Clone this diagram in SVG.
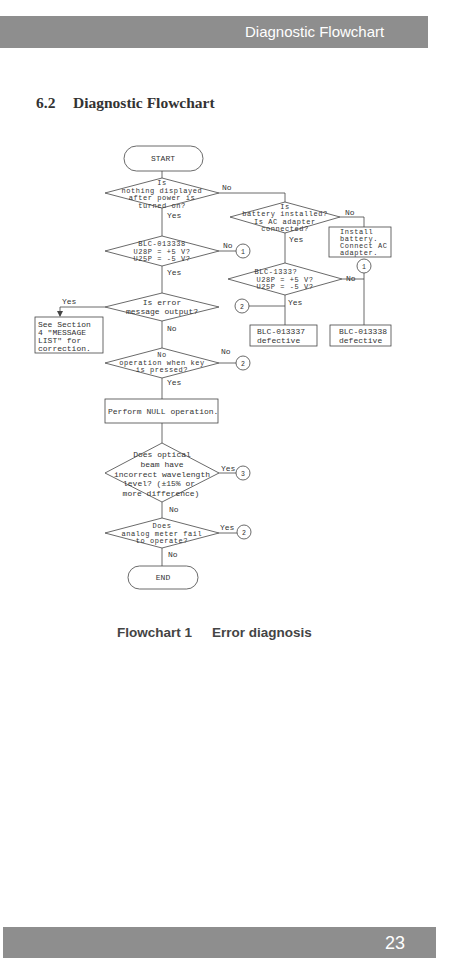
<svg xmlns="http://www.w3.org/2000/svg" width="454" height="964" viewBox="0 0 454 964">
<style>
.ln{fill:none;stroke:#444;stroke-width:0.8}
.sh{fill:#fff;stroke:#444;stroke-width:0.8}
.t{font-family:"Liberation Mono","DejaVu Sans Mono",monospace;font-size:8px;fill:#333}
.s{font-size:7px;letter-spacing:0.55px}
.c{text-anchor:middle}
.n{font-family:"Liberation Mono",monospace;font-size:6.5px;fill:#333;text-anchor:middle}
</style>
<defs>
<marker id="ah" markerWidth="6" markerHeight="6" refX="5" refY="3" orient="auto" markerUnits="userSpaceOnUse"><path d="M0,0 L6,3 L0,6 z" fill="#444"/></marker>
</defs>
<rect width="454" height="964" fill="#fff"/>
<g id="header">
<rect x="0" y="16" width="428" height="32" fill="#8e8e8e"/>
<text x="245" y="37" font-family="Liberation Sans,Arial,sans-serif" font-size="15" fill="#fff">Diagnostic Flowchart</text>
</g>
<g id="title">
<text x="36" y="108" font-family="Liberation Serif,serif" font-size="15.5" font-weight="bold" fill="#333">6.2</text>
<text x="73" y="108" font-family="Liberation Serif,serif" font-size="15.5" font-weight="bold" fill="#333">Diagnostic Flowchart</text>
</g>
<g id="connectors">
<path class="ln" d="M162,171 V178"/>
<path class="ln" d="M162,208 V236"/>
<path class="ln" d="M219,193 H285 V203"/>
<path class="ln" d="M219,251 H236"/>
<path class="ln" d="M162,266 V293"/>
<path class="ln" d="M105,307 H60 V316" marker-end="url(#ah)"/>
<path class="ln" d="M162,321 V348"/>
<path class="ln" d="M219,363 H236"/>
<path class="ln" d="M162,378 V399"/>
<path class="ln" d="M162,423 V443"/>
<path class="ln" d="M219,473 H236"/>
<path class="ln" d="M162,502 V518"/>
<path class="ln" d="M219,533 H237"/>
<path class="ln" d="M162,548 V566"/>
<path class="ln" d="M340,217 H364 V227"/>
<path class="ln" d="M285,232 V263"/>
<path class="ln" d="M342,279 H364"/>
<path class="ln" d="M364,273 V325"/>
<path class="ln" d="M285,294 V325"/>
<path class="ln" d="M249,306 H285"/>
<text class="t" x="167" y="218">Yes</text>
<text class="t" x="222" y="190">No</text>
<text class="t" x="223" y="248">No</text>
<text class="t" x="167" y="275">Yes</text>
<text class="t" x="62" y="304">Yes</text>
<text class="t" x="167" y="331">No</text>
<text class="t" x="221" y="354">No</text>
<text class="t" x="167" y="385">Yes</text>
<text class="t" x="221" y="471">Yes</text>
<text class="t" x="169" y="512">No</text>
<text class="t" x="220" y="530">Yes</text>
<text class="t" x="168" y="557">No</text>
<text class="t" x="345" y="215">No</text>
<text class="t" x="289" y="242">Yes</text>
<text class="t" x="346" y="281">No</text>
<text class="t" x="288" y="305">Yes</text>
</g>
<g id="start">
<rect class="sh" x="124" y="146" width="79" height="25" rx="12.5"/>
<text class="t c" x="163" y="161" font-size="7">START</text>
</g>
<g id="d1">
<polygon class="sh" points="162,178 219,193 162,208 105,193"/>
<text class="t s c" x="162" y="185">Is</text>
<text class="t s c" x="162" y="192.5">nothing displayed</text>
<text class="t s c" x="162" y="200">after power is</text>
<text class="t s c" x="162" y="207.5">turned on?</text>
</g>
<g id="d2">
<polygon class="sh" points="162,236 219,251 162,266 105,251"/>
<text class="t s c" x="162" y="246">BLC-013338</text>
<text class="t s c" x="162" y="253.5">U28P = +5 V?</text>
<text class="t s c" x="162" y="261">U25P = -5 V?</text>
</g>
<g id="c1a">
<circle class="sh" cx="243" cy="251" r="7"/>
<text class="n" x="243" y="253.5">1</text>
</g>
<g id="d3">
<polygon class="sh" points="162,293 219,307 162,321 105,307"/>
<text class="t c" x="162" y="305">Is error</text>
<text class="t c" x="162" y="314">message output?</text>
</g>
<g id="see">
<rect class="sh" x="35" y="317" width="68" height="36"/>
<text class="t" x="38" y="327" font-size="7.5">See Section</text>
<text class="t" x="38" y="335" font-size="7.5">4 "MESSAGE</text>
<text class="t" x="38" y="343" font-size="7.5">LIST" for</text>
<text class="t" x="38" y="351" font-size="7.5">correction.</text>
</g>
<g id="d4">
<polygon class="sh" points="162,348 219,363 162,378 105,363"/>
<text class="t s c" x="162" y="357">No</text>
<text class="t s c" x="162" y="364.5">operation when key</text>
<text class="t s c" x="162" y="372">is pressed?</text>
</g>
<g id="c2a">
<circle class="sh" cx="243" cy="363" r="7"/>
<text class="n" x="243" y="365.5">2</text>
</g>
<g id="null">
<rect class="sh" x="105" y="399" width="113" height="24"/>
<text class="t" x="108" y="414">Perform NULL operation.</text>
</g>
<g id="d5">
<polygon class="sh" points="162,443 219,473 162,502 105,473"/>
<text class="t c" x="162" y="457">Does optical</text>
<text class="t c" x="162" y="467">beam have</text>
<text class="t c" x="162" y="476.5">incorrect wavelength</text>
<text class="t c" x="159" y="486">level?  (±15% or</text>
<text class="t c" x="161" y="495.5">more difference)</text>
</g>
<g id="c3">
<circle class="sh" cx="243" cy="473" r="7"/>
<text class="n" x="243" y="475.5">3</text>
</g>
<g id="d6">
<polygon class="sh" points="162,518 219,533 162,548 105,533"/>
<text class="t s c" x="162" y="528">Does</text>
<text class="t s c" x="162" y="535.5">analog meter fail</text>
<text class="t s c" x="162" y="543">to operate?</text>
</g>
<g id="c2b">
<circle class="sh" cx="244" cy="532" r="7"/>
<text class="n" x="244" y="534.5">2</text>
</g>
<g id="end">
<rect class="sh" x="128" y="566" width="70" height="23" rx="11.5"/>
<text class="t c" x="163" y="580" font-size="7">END</text>
</g>
<g id="d7">
<polygon class="sh" points="285,202 340,217 285,233 230,217"/>
<text class="t s c" x="285" y="208.5">Is</text>
<text class="t s c" x="285" y="216">battery installed?</text>
<text class="t s c" x="285" y="223.5">Is AC adapter</text>
<text class="t s c" x="285" y="231">connected?</text>
</g>
<g id="install">
<rect class="sh" x="329" y="227" width="62" height="30"/>
<text class="t s" x="340" y="234">Install</text>
<text class="t s" x="340" y="241">battery.</text>
<text class="t s" x="340" y="248">Connect AC</text>
<text class="t s" x="340" y="255">adapter.</text>
</g>
<g id="c1b">
<circle class="sh" cx="364" cy="266" r="7"/>
<text class="n" x="364" y="268.5">1</text>
</g>
<g id="d8">
<polygon class="sh" points="285,263 342,279 285,295 228,279"/>
<text class="t s c" x="276" y="274">BLC-1333?</text>
<text class="t s c" x="285" y="281.5">U28P = +5 V?</text>
<text class="t s c" x="285" y="289">U25P = -5 V?</text>
</g>
<g id="c2c">
<circle class="sh" cx="242" cy="306" r="7"/>
<text class="n" x="242" y="308.5">2</text>
</g>
<g id="b37">
<rect class="sh" x="250" y="325" width="67" height="21"/>
<text class="t" x="257" y="334">BLC-013337</text>
<text class="t" x="257" y="343">defective</text>
</g>
<g id="b38">
<rect class="sh" x="330" y="325" width="61" height="21"/>
<text class="t" x="339" y="334">BLC-013338</text>
<text class="t" x="339" y="343">defective</text>
</g>
<g id="caption">
<text x="117" y="637" font-family="Liberation Sans,Arial,sans-serif" font-size="13.5" font-weight="bold" fill="#444">Flowchart 1</text>
<text x="212" y="637" font-family="Liberation Sans,Arial,sans-serif" font-size="13.5" font-weight="bold" fill="#444">Error diagnosis</text>
</g>
<g id="footer">
<rect x="3" y="927" width="433" height="31" fill="#8e8e8e"/>
<text x="385" y="949" font-family="Liberation Sans,Arial,sans-serif" font-size="18" fill="#fff">23</text>
</g>
</svg>
